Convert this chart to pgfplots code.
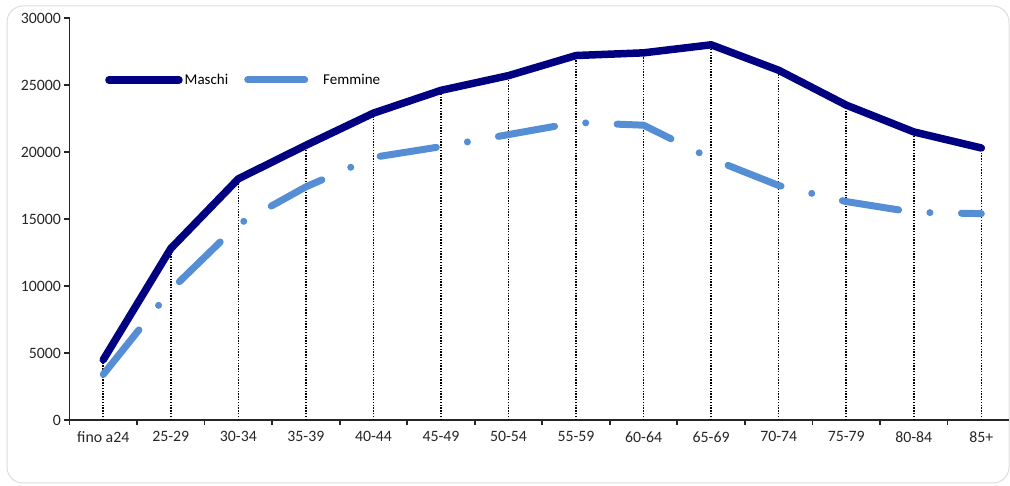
\documentclass[border=0pt]{standalone}
\usepackage{pgfplots}
\pgfplotsset{compat=1.18}
\usepackage{fontspec}
\setmainfont{Carlito}
\definecolor{maschi}{RGB}{0,0,128}
\definecolor{femmine}{RGB}{85,142,213}
\definecolor{framec}{RGB}{220,220,220}
\pgfplotsset{
  mleg/.style={legend image code/.code={\draw[##1] (3.75bp,0bp) -- (66.25bp,0bp); \path (0bp,0bp) -- (70bp,0bp);}},
  fleg/.style={legend image code/.code={\draw[##1, solid] (3.5bp,0bp) -- (43.5bp,0bp); \path (0bp,0bp) -- (70bp,0bp);}},
}
\begin{document}
\begin{tikzpicture}
\path[use as bounding box] (0,0) rectangle (1010bp,486bp);
\draw[framec, line width=1bp, rounded corners=16bp] (7bp,3bp) rectangle (1009bp,480bp);
\begin{axis}[
  at={(69.5bp,66bp)}, anchor=south west,
  scale only axis, width=939.5bp, height=402bp,
  xmin=-0.5, xmax=13.41, ymin=0, ymax=30000,
  axis lines*=left,
  axis line style={line width=1.8bp, black!85},
  xtick={0,...,13},
  xticklabels={fino a24,25-29,30-34,35-39,40-44,45-49,50-54,55-59,60-64,65-69,70-74,75-79,80-84,85+},
  major x tick style={draw=none},
  minor xtick={-0.5,0.5,...,12.5},
  ytick={0,5000,...,30000},
  scaled y ticks=false,
  tick align=outside,
  major tick length=5bp, minor tick length=5bp,
  every tick/.style={line width=1.8bp, black!85},
  /pgf/number format/assume math mode=true,
  /pgf/number format/1000 sep={},
  tick label style={font=\fontsize{15.8bp}{19bp}\selectfont, text=black!85},
  xticklabel style={yshift=-3bp},
  legend columns=2,
  legend style={at={(axis description cs:0.0378,0.846)}, anchor=west, draw=none, fill=none,
    inner sep=0pt, font=\fontsize{15bp}{18bp}\selectfont,
    /tikz/every even column/.append style={column sep=14bp}},
  legend cell align=left,
  clip=false,
]
\addplot[ycomb, black, line width=1.6bp, dash pattern=on 1.4bp off 1.4bp, forget plot]
  coordinates {(0,4500)(1,12800)(2,18000)(3,20500)(4,22900)(5,24600)(6,25700)(7,27200)(8,27400)(9,28000)(10,26100)(11,23500)(12,21500)(13,20300)};
\addplot[maschi, line width=7.5bp, line cap=round, line join=round, mleg]
  coordinates {(0,4500)(1,12800)(2,18000)(3,20500)(4,22900)(5,24600)(6,25700)(7,27200)(8,27400)(9,28000)(10,26100)(11,23500)(12,21500)(13,20300)};
\addlegendentry{Maschi}
\addplot[femmine, line width=7bp, line cap=round, line join=round, dash pattern=on 57bp off 31.5bp on 0bp off 31.5bp, fleg]
  coordinates {(0,3400)(1,9700)(2,14600)(3,17400)(4,19600)(5,20400)(6,21300)(7,22200)(8,22000)(9,19500)(10,17500)(11,16300)(12,15500)(13,15400)};
\addlegendentry{Femmine}
\end{axis}
\end{tikzpicture}
\end{document}
